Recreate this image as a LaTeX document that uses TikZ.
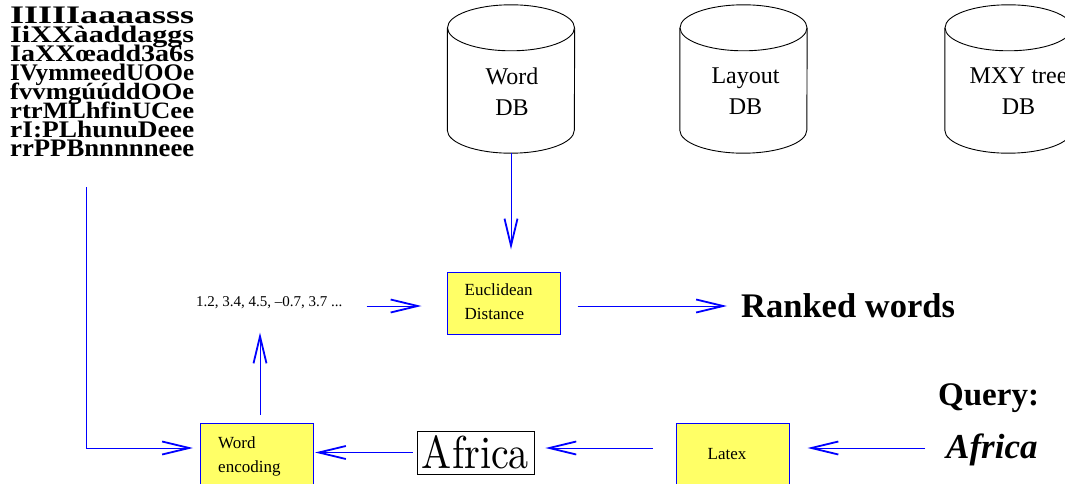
\documentclass[tikz,border=0pt]{standalone}
\usepackage{fontspec}
\newfontfamily\tms{Liberation Serif}
\usetikzlibrary{arrows.meta,calc}
\definecolor{boxyellow}{RGB}{255,255,102}
\tikzset{
  cyl/.style={draw=black, line width=0.9pt},
  dbtext/.style={font=\tms\fontsize{24}{31}\selectfont, align=center, inner sep=0pt},
  ybox/.style={draw=blue, line width=1pt, fill=boxyellow, minimum width=113pt, minimum height=62pt, inner sep=0pt},
  boxtext/.style={font=\tms\fontsize{17}{24.5}\selectfont, align=left, inner sep=0pt},
  arr/.style={draw=blue, line width=1pt, -{Straight Barb[length=27pt,width=13pt,line width=1.8pt]}},
  plain/.style={inner sep=0pt},
}
\begin{document}
\begin{tikzpicture}[x=1pt,y=-1pt]
\useasboundingbox (0,0) rectangle (1065,484);

% word-image mosaic
\foreach \r [count=\i] in {IIIIIaaaasss, IiXXàaddaggs, IaXXœadd3a6s, IVymmeedUOOe, fvvmgúúddOOe, rtrMLhfinUCee, rI:PLhunuDeee, rrPPBnnnnneee}
  \node[plain, anchor=base west] (g\i) at (10, {8+18.9*\i-3}) {\resizebox{184pt}{16.5pt}{\tms\bfseries \r}};
\coordinate (src) at (86,187);

% databases
\foreach \n/\x/\t/\dx in {wdb/511/{Word\\DB}/1, ldb/743.5/{Layout\\DB}/2, mdb/1008.5/{MXY tree\\DB}/10} {
  \node[plain, minimum width=127pt, minimum height=148pt] (\n) at (\x,79) {};
  \draw[cyl] ($(\n.north)+(0,23)$) ellipse[x radius=63.5pt, y radius=23pt];
  \draw[cyl] ($(\n.north west)+(0,23)$) -- ($(\n.south west)+(0,-23)$)
     arc[start angle=180, end angle=360, x radius=63.5pt, y radius=23pt] -- ($(\n.north east)+(0,23)$);
  \node[dbtext] (\n-t) at (\x+\dx,91.5) {\t};
}

% processing boxes
\node[ybox] (eu) at (503.5,303) {};
\node[boxtext, anchor=north west] (eu-t) at (464.5,283.5) {Euclidean\\Distance};
\node[ybox] (we) at (257,454) {};
\node[boxtext, anchor=north west] (we-t) at (218,436.5) {Word\\encoding};
\node[ybox] (lx) at (732.5,454) {};
\node[plain, anchor=base, font=\tms\fontsize{17}{20}\selectfont] (lx-t) at (727,459) {Latex};

% texts
\node[plain, anchor=base west, font=\tms\fontsize{15}{18}\selectfont] (num) at (196,306) {1.2, 3.4, 4.5, \textendash 0.7, 3.7 ...};
\node[plain, anchor=base west, font=\tms\bfseries\fontsize{34.5}{40}\selectfont] (rk) at (741,317) {Ranked words};
\node[plain, anchor=base west, font=\tms\bfseries\fontsize{33}{40}\selectfont] (qq) at (938,405) {Query:};
\node[plain, anchor=base west, font=\tms\bfseries\itshape\fontsize{35}{40}\selectfont] (qa) at (946,458) {Africa};
\node[draw=black, line width=0.8pt, minimum width=117pt, minimum height=43pt, inner sep=0pt] (af) at (475.5,452.5) {\resizebox{107pt}{33pt}{Africa}};

% connector rows
\coordinate (r1) at (0,306);
\coordinate (r2) at (0,448);
\path ([xshift=3pt]we.north) coordinate (weup);

% connectors
\draw[arr, shorten >=22pt] (wdb.south) -- (wdb.south |- eu.north);
\draw[arr, shorten <=24pt, shorten >=25pt] (num.base east) -- (num.base east -| eu.west);
\draw[arr, shorten <=17pt, shorten >=14pt] (eu.east |- r1) -- (rk.west |- r1);
\draw[arr, shorten <=8pt, shorten >=24pt] (weup) -- (weup |- num.south);
\draw[arr, shorten >=7pt] (src) |- (we.west |- r2);
\draw[arr, shorten <=4pt, shorten >=1pt] (af.west) -- (af.west -| we.east);
\draw[arr, shorten <=23pt, shorten >=11pt] (lx.west |- r2) -- (af.east |- r2);
\draw[arr, shorten <=21pt, shorten >=18pt] (qa.west |- r2) -- (lx.east |- r2);
\end{tikzpicture}
\end{document}
